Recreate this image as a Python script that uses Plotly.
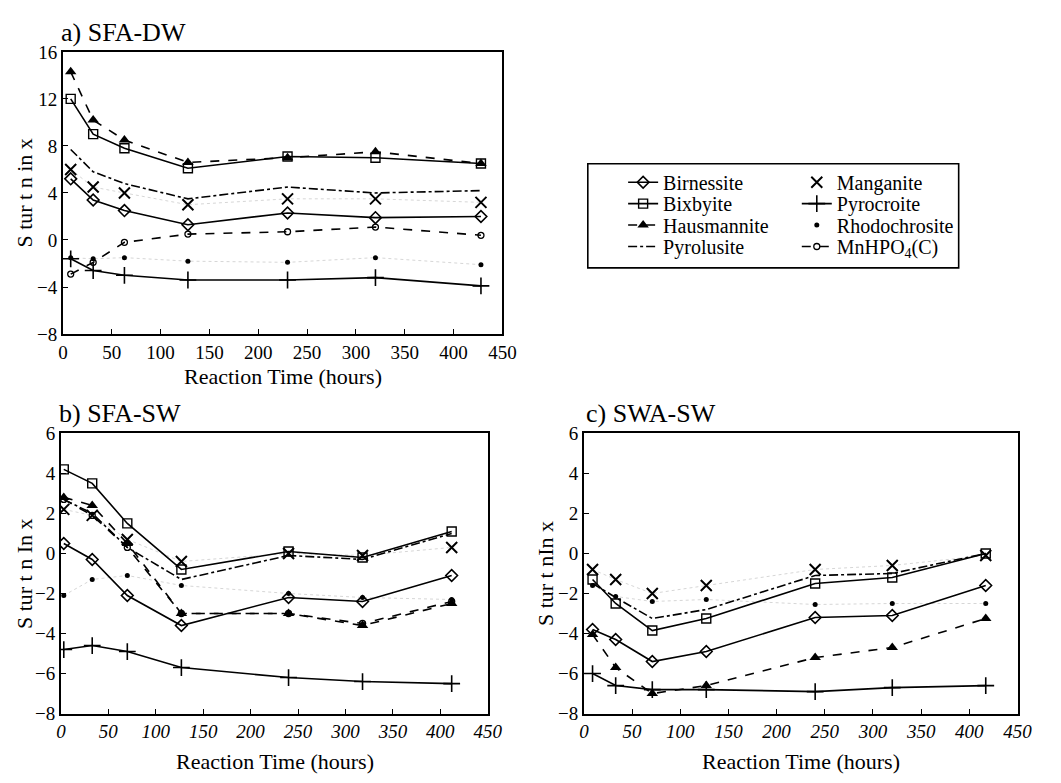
import plotly.graph_objects as go

# ---------------- data ----------------
t_a = [8, 31, 63, 128, 230, 320, 428]
t_b = [3, 33, 70, 127, 240, 318, 412]
t_c = [9, 33, 71, 127, 240, 320, 417]

birn_a = [5.2, 3.4, 2.5, 1.3, 2.3, 1.9, 2.0]
bix_a = [12.0, 9.0, 7.8, 6.1, 7.1, 7.0, 6.5]
haus_a = [14.3, 10.2, 8.5, 6.6, 7.0, 7.5, 6.5]
pyrol_a = [7.7, 5.8, 4.8, 3.5, 4.5, 4.0, 4.2]
mang_a = [6.0, 4.5, 4.0, 3.0, 3.5, 3.5, 3.2]
pyroc_a = [-1.6, -2.6, -3.0, -3.4, -3.4, -3.2, -3.9]
rhodo_a = [-1.5, -1.6, -1.5, -1.8, -1.9, -1.5, -2.1]
mnhpo_a = [-2.9, -1.9, -0.2, 0.5, 0.7, 1.1, 0.4]

birn_b = [0.5, -0.3, -2.1, -3.6, -2.2, -2.4, -1.1]
bix_b = [4.2, 3.5, 1.5, -0.8, 0.1, -0.2, 1.1]
haus_b = [2.8, 2.4, 0.5, -3.0, -3.0, -3.6, -2.5]
pyrol_b = [2.7, 2.0, 0.3, -1.3, -0.1, -0.3, 1.0]
mang_b = [2.2, 1.9, 0.7, -0.4, 0.0, -0.1, 0.3]
pyroc_b = [-4.8, -4.6, -4.9, -5.7, -6.2, -6.4, -6.5]
rhodo_b = [-2.1, -1.3, -1.1, -1.6, -2.0, -2.2, -2.3]
mnhpo_b = [2.7, 1.9, 0.3, -3.0, -3.0, -3.5, -2.4]

birn_c = [-3.8, -4.3, -5.4, -4.9, -3.2, -3.1, -1.6]
bix_c = [-1.3, -2.5, -3.85, -3.25, -1.5, -1.2, 0.0]
haus_c = [-4.05, -5.7, -7.0, -6.6, -5.2, -4.7, -3.25]
pyrol_c = [-1.5, -2.2, -3.25, -2.8, -1.1, -1.0, 0.0]
mang_c = [-0.8, -1.3, -2.0, -1.6, -0.8, -0.6, -0.1]
pyroc_c = [-6.0, -6.6, -6.8, -6.8, -6.9, -6.7, -6.6]
rhodo_c = [-1.6, -2.15, -2.4, -2.3, -2.55, -2.5, -2.5]

x_ticks = [0, 50, 100, 150, 200, 250, 300, 350, 400, 450]

FONT = "Liberation Serif, Times New Roman, DejaVu Serif, serif"
W, H = 1061, 783

panels = [
    dict(t=t_a, xa="x", ya="y", data=dict(Birnessite=birn_a, Bixbyite=bix_a, Hausmannite=haus_a,
         Pyrolusite=pyrol_a, Manganite=mang_a, Pyrocroite=pyroc_a, Rhodochrosite=rhodo_a, MnHPO4=mnhpo_a)),
    dict(t=t_b, xa="x2", ya="y2", data=dict(Birnessite=birn_b, Bixbyite=bix_b, Hausmannite=haus_b,
         Pyrolusite=pyrol_b, Manganite=mang_b, Pyrocroite=pyroc_b, Rhodochrosite=rhodo_b, MnHPO4=mnhpo_b)),
    dict(t=t_c, xa="x3", ya="y3", data=dict(Birnessite=birn_c, Bixbyite=bix_c, Hausmannite=haus_c,
         Pyrolusite=pyrol_c, Manganite=mang_c, Pyrocroite=pyroc_c, Rhodochrosite=rhodo_c)),
]

styles = {
    "Birnessite": dict(mode="lines+markers", line=dict(color="black", width=1.6),
                       marker=dict(symbol="diamond-open", size=9, color="black", line=dict(width=1.6)),
                       label="Birnessite"),
    "Bixbyite": dict(mode="lines+markers", line=dict(color="black", width=1.6),
                     marker=dict(symbol="square-open", size=9, color="black", line=dict(width=1.4)),
                     label="Bixbyite"),
    "Hausmannite": dict(mode="lines+markers", line=dict(color="black", width=1.6, dash="dash"),
                        marker=dict(symbol="triangle-up", size=10, color="black"),
                        label="Hausmannite"),
    "Pyrolusite": dict(mode="lines", line=dict(color="black", width=1.6, dash="dashdot"),
                       label="Pyrolusite"),
    "Manganite": dict(mode="markers",
                      marker=dict(symbol="x-thin-open", size=11, color="black", line=dict(width=2, color="black")),
                      label="Manganite"),
    "Pyrocroite": dict(mode="lines+markers", line=dict(color="black", width=1.6),
                       marker=dict(symbol="cross-thin-open", size=12, color="black", line=dict(width=1.6, color="black")),
                       label="Pyrocroite"),
    "Rhodochrosite": dict(mode="markers", marker=dict(symbol="circle", size=5, color="black"),
                          label="Rhodochrosite"),
    "MnHPO4": dict(mode="lines+markers", line=dict(color="black", width=1.6, dash="dash"),
                   marker=dict(symbol="circle-open", size=6, color="black", line=dict(width=1.3)),
                   label="MnHPO<sub>4</sub>(C)"),
}

order = ["Birnessite", "Bixbyite", "Hausmannite", "Pyrolusite",
         "Manganite", "Pyrocroite", "Rhodochrosite", "MnHPO4"]
legend_ids = ["legend", "legend2", "legend3", "legend4",
              "legend5", "legend6", "legend7", "legend8"]

fig = go.Figure()
for pi, p in enumerate(panels):
    # faint dotted guide lines for marker-only series
    for name in ["Manganite", "Rhodochrosite"]:
        if name in p["data"]:
            fig.add_trace(go.Scatter(x=p["t"], y=p["data"][name], mode="lines",
                                     line=dict(color="#d6d6d6", width=1, dash="dot"),
                                     showlegend=False, hoverinfo="skip",
                                     xaxis=p["xa"], yaxis=p["ya"]))
    for li, name in enumerate(order):
        if name not in p["data"]:
            continue
        s = styles[name]
        kw = dict(mode=s["mode"])
        if "line" in s:
            kw["line"] = s["line"]
        if "marker" in s:
            kw["marker"] = s["marker"]
        fig.add_trace(go.Scatter(x=p["t"], y=p["data"][name], name=s["label"],
                                 showlegend=(pi == 0), legend=legend_ids[li],
                                 xaxis=p["xa"], yaxis=p["ya"], **kw))

def px_x(v):
    return v / W

def px_y(v):
    return 1 - v / H

axis_common = dict(showline=True, mirror=True, linecolor="black", linewidth=1.6,
                   ticks="inside", ticklen=5, tickcolor="black", tickwidth=1.3,
                   showgrid=False, zeroline=False)

xt_up = dict(family=FONT, size=19, color="black")
xt_it = dict(family=FONT, size=19, color="black", style="italic")
yt = dict(family=FONT, size=19, color="black")

# legend layout: two columns of four rows
leg_x = [630, 630, 630, 630, 807, 807, 807, 807]
leg_y = [177, 199, 221, 243, 177, 199, 221, 243]
legends = {}
for lid, lx, ly in zip(legend_ids, leg_x, leg_y):
    legends[lid] = dict(x=px_x(lx), y=px_y(ly), xanchor="left", yanchor="middle",
                        bgcolor="rgba(0,0,0,0)", borderwidth=0,
                        font=dict(family=FONT, size=20, color="black"),
                        itemwidth=30, tracegroupgap=0)

fig.update_layout(
    width=W, height=H, margin=dict(l=0, r=0, t=0, b=0),
    paper_bgcolor="white", plot_bgcolor="white",
    font=dict(family=FONT, color="black"),
    xaxis=dict(domain=[px_x(59), px_x(507)], range=[0, 450], tickvals=x_ticks,
               tickfont=xt_up, anchor="y", **axis_common),
    yaxis=dict(domain=[px_y(333), px_y(43)], range=[-8, 16], dtick=4,
               tickfont=yt, anchor="x", **axis_common),
    xaxis2=dict(domain=[px_x(57), px_x(492)], range=[0, 450], tickvals=x_ticks,
                tickfont=xt_it, anchor="y2", **axis_common),
    yaxis2=dict(domain=[px_y(723), px_y(435)], range=[-8, 6], dtick=2,
                tickfont=yt, anchor="x2", **axis_common),
    xaxis3=dict(domain=[px_x(590), px_x(1032)], range=[0, 450], tickvals=x_ticks,
                tickfont=xt_it, anchor="y3", **axis_common),
    yaxis3=dict(domain=[px_y(723), px_y(435)], range=[-8, 6], dtick=2,
                tickfont=yt, anchor="x3", **axis_common),
    shapes=[dict(type="rect", xref="paper", yref="paper",
                 x0=px_x(594), x1=px_x(972), y0=px_y(265), y1=px_y(158),
                 line=dict(color="black", width=1.6), fillcolor="rgba(0,0,0,0)")],
    **legends,
)

annots = [
    dict(text="a) SFA-DW", x=px_x(55), y=px_y(23), xanchor="left", size=26),
    dict(text="b) SFA-SW", x=px_x(53), y=px_y(415), xanchor="left", size=26),
    dict(text="c) SWA-SW", x=px_x(590), y=px_y(415), xanchor="left", size=26),
    dict(text="Reaction Time (hours)", x=px_x(283), y=px_y(377), xanchor="center", size=22),
    dict(text="Reaction Time (hours)", x=px_x(275), y=px_y(772), xanchor="center", size=22),
    dict(text="Reaction Time (hours)", x=px_x(811), y=px_y(772), xanchor="center", size=22),
    dict(text="S tur t n in x", x=px_x(20), y=px_y(188), xanchor="center", size=22, angle=-90),
    dict(text="S tur t n In x", x=px_x(20), y=px_y(579), xanchor="center", size=22, angle=-90),
    dict(text="S tur t nIn x", x=px_x(551), y=px_y(579), xanchor="center", size=22, angle=-90),
]
for a in annots:
    fig.add_annotation(text=a["text"], x=a["x"], y=a["y"], xref="paper", yref="paper",
                       xanchor=a["xanchor"], yanchor="middle", showarrow=False,
                       textangle=a.get("angle", 0),
                       font=dict(family=FONT, size=a["size"], color="black"))

fig.write_html("out.html")
